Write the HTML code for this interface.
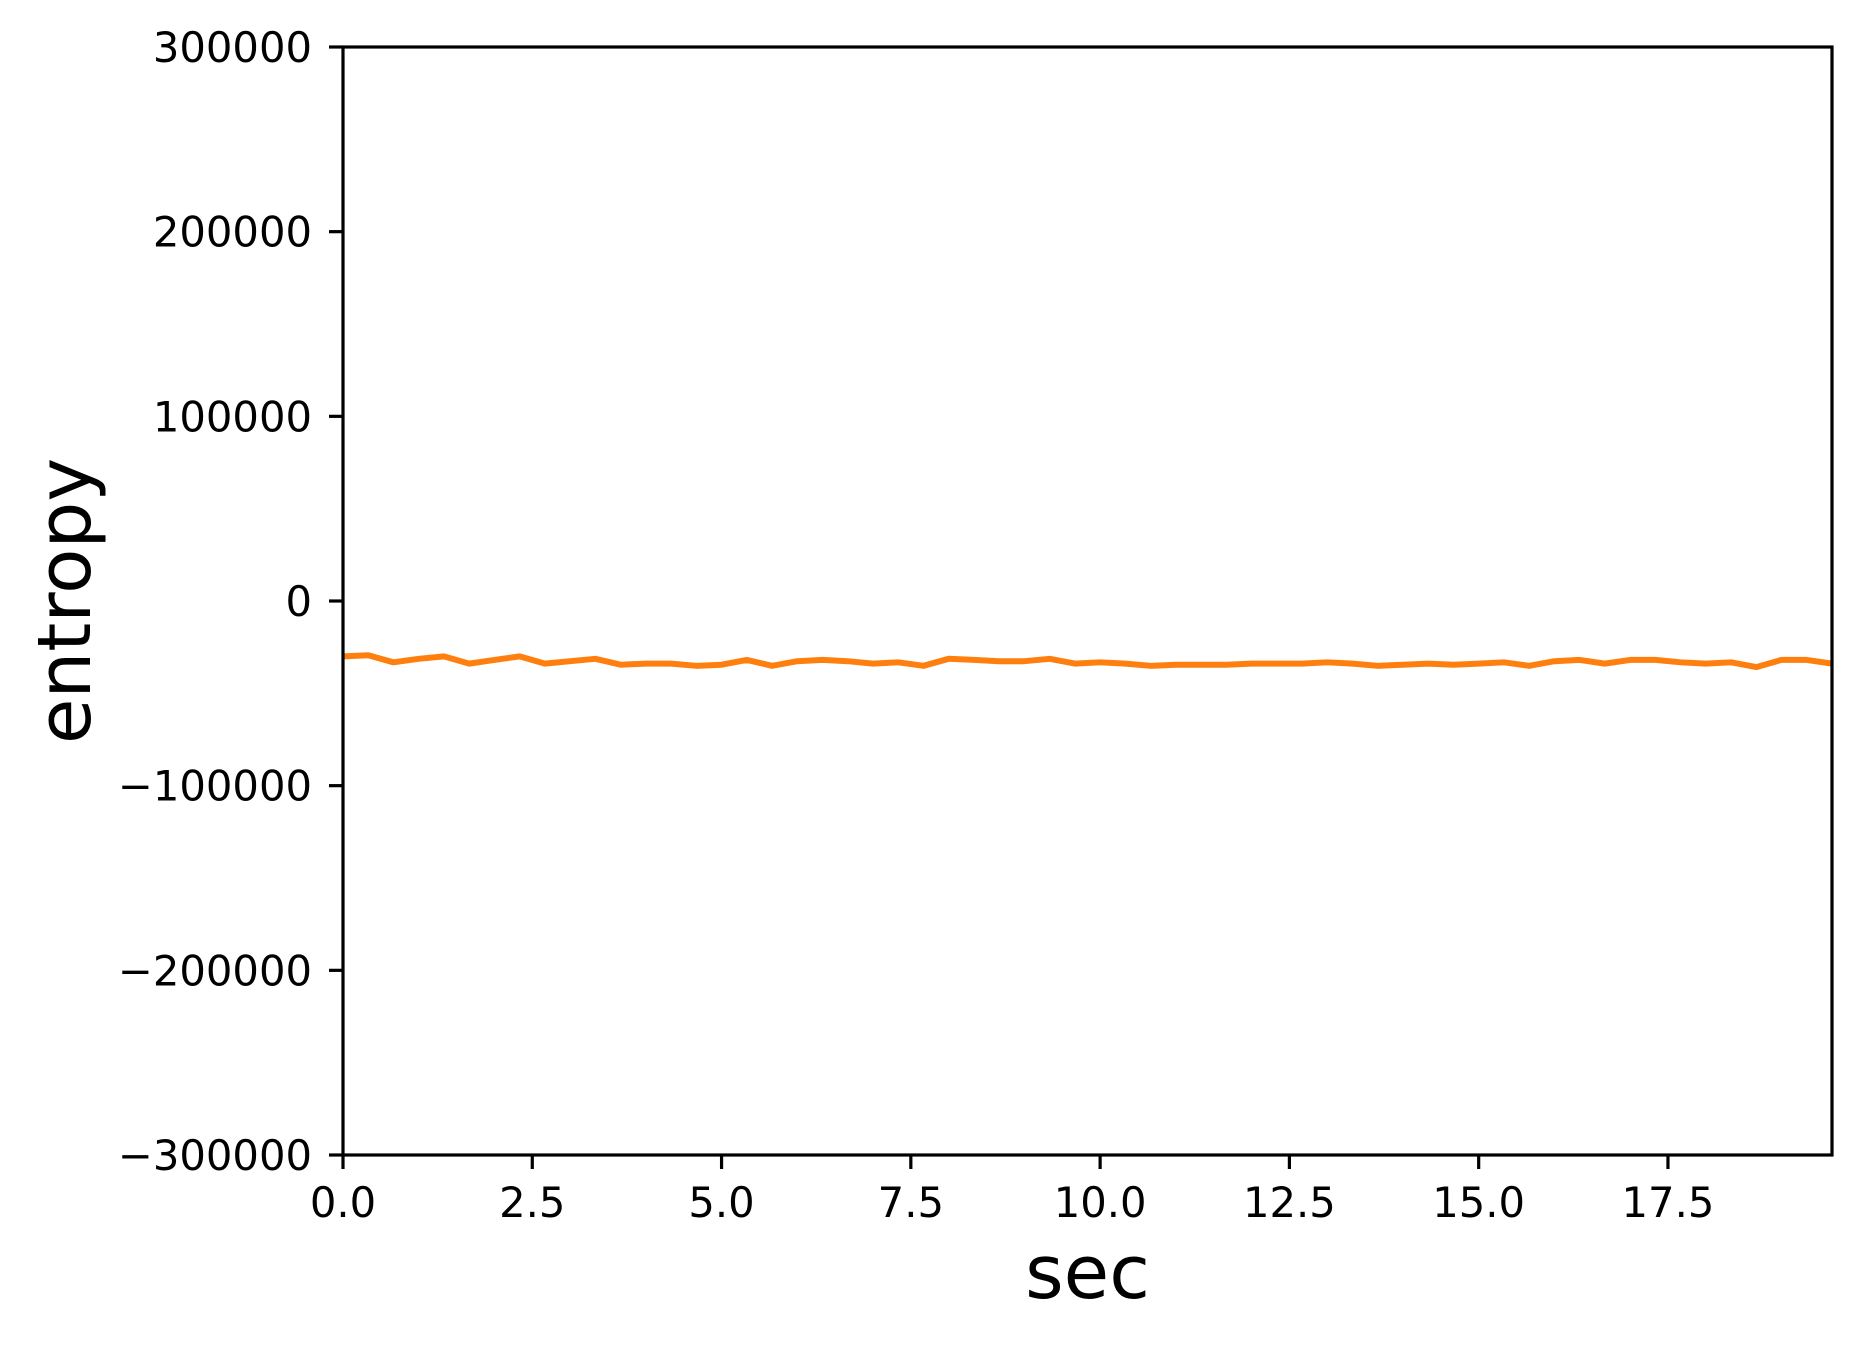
<!DOCTYPE html>
<html><head><meta charset="utf-8"><style>
html,body{margin:0;padding:0;background:#fff;}
svg{display:block;font-family:"DejaVu Sans","Liberation Sans",sans-serif;}
</style></head><body>
<svg id="chart" width="1860" height="1346" viewBox="0 0 1860 1346" xmlns="http://www.w3.org/2000/svg">
<rect width="1860" height="1346" fill="#fff"/>
<g id="plot"></g>
</svg>
<script>
const entropyValues = [-30.0,-29.4,-33.2,-31.3,-30.0,-33.9,-31.9,-30.0,-33.9,-32.6,-31.3,-34.5,-33.9,-33.9,-35.1,-34.5,-31.9,-35.1,-32.6,-31.9,-32.6,-33.9,-33.2,-35.1,-31.3,-31.9,-32.6,-32.6,-31.3,-33.9,-33.2,-33.9,-35.1,-34.5,-34.5,-34.5,-33.9,-33.9,-33.9,-33.2,-33.9,-35.1,-34.5,-33.9,-34.5,-33.9,-33.2,-35.1,-32.6,-31.9,-33.9,-31.9,-31.9,-33.2,-33.9,-33.2,-35.8,-31.9,-31.9,-33.9];
const sampleStep = 1/3;
const xTicks = [0,2.5,5,7.5,10,12.5,15,17.5];
const xTickLabels = ["0.0","2.5","5.0","7.5","10.0","12.5","15.0","17.5"];
const yTicks = [-300000,-200000,-100000,0,100000,200000,300000];
const yTickLabels = ["\u2212300000","\u2212200000","\u2212100000","0","100000","200000","300000"];
const xMin = 0, xMax = 59/3, yMin = -300000, yMax = 300000;

const L=343, R=1832, T=47, B=1155;
const sx = v => L + (v - xMin) / (xMax - xMin) * (R - L);
const sy = v => B - (v - yMin) / (yMax - yMin) * (B - T);
const NS = "http://www.w3.org/2000/svg";
const g = document.getElementById('plot');
function mk(tag, attrs){const e=document.createElementNS(NS,tag);for(const k in attrs)e.setAttribute(k,attrs[k]);g.appendChild(e);return e;}

const pts = entropyValues.map((v,i)=>sx(i*sampleStep).toFixed(2)+','+sy(v*1000).toFixed(2)).join(' ');
const line = mk('polyline',{points:pts,fill:'none',stroke:'#ff7f0e','stroke-width':6,'stroke-linejoin':'round'});



const frame = mk('rect',{x:L,y:T,width:R-L,height:B-T,fill:'none',stroke:'#000','stroke-width':3.2});



xTicks.forEach((t,i)=>{
  const x = sx(t);
  const tk = mk('line',{x1:x,x2:x,y1:B,y2:B+14,stroke:'#000','stroke-width':3.2});
  
  
  const tx = mk('text',{x:x,y:B+62,'text-anchor':'middle','font-size':41.7,fill:'#000'});
  tx.textContent = xTickLabels[i];
  
  
});
yTicks.forEach((t,i)=>{
  const y = sy(t);
  const tk = mk('line',{x1:L-14,x2:L,y1:y,y2:y,stroke:'#000','stroke-width':3.2});
  
  
  const tx = mk('text',{x:L-31,y:y+15,'text-anchor':'end','font-size':41.7,fill:'#000'});
  tx.textContent = yTickLabels[i];
  
  
});
const xt = mk('text',{x:(L+R)/2,y:1298,'text-anchor':'middle','font-size':74,fill:'#000'});
xt.textContent = 'sec';


const yt = mk('text',{x:0,y:0,'text-anchor':'middle','font-size':74,fill:'#000',transform:'translate(90,'+((T+B)/2)+') rotate(-90)'});
yt.textContent = 'entropy';


</script>
</body></html>
